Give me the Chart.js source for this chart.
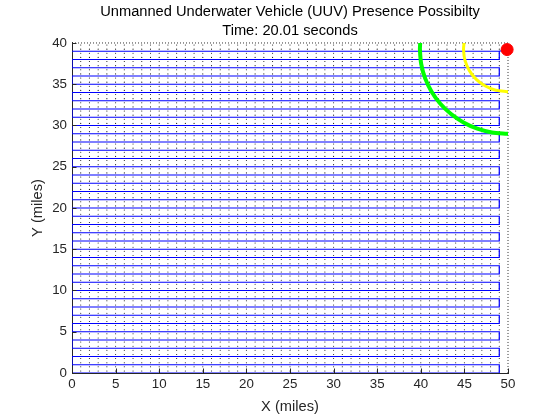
<!DOCTYPE html>
<html>
<head>
<meta charset="utf-8">
<script src="https://cdn.jsdelivr.net/npm/chart.js@4.4.0/dist/chart.umd.min.js"></script>
<style>
  body { margin: 0; background: #fff; }
</style>
</head>
<body>
<canvas id="myChart" width="560" height="420"></canvas>
<script>
// lawnmower search lanes (miles), top lane first
var laneY = [39, 38, 37, 36, 35, 34, 33, 32, 31, 30, 29, 28, 27, 26, 25, 24, 23, 22, 21, 20,
             19, 18, 17, 16, 15, 14, 13, 12, 11, 10, 9, 8, 7, 6, 5, 4, 3, 2, 1, 0];
var laneLeft = 0;
var laneRight = 49;

// coverage grid dots
var dotCols = [1, 2, 3, 4, 5, 6, 7, 8, 9, 10, 11, 12, 13, 14, 15, 16, 17, 18, 19, 20, 21, 22, 23, 24, 25,
               26, 27, 28, 29, 30, 31, 32, 33, 34, 35, 36, 37, 38, 39, 40, 41, 42, 43, 44, 45, 46, 47, 48, 49];
var dotRows = [0.25, 0.75, 1.25, 1.75, 2.25, 2.75, 3.25, 3.75, 4.25, 4.75, 5.25, 5.75, 6.25, 6.75, 7.25, 7.75,
               8.25, 8.75, 9.25, 9.75, 10.25, 10.75, 11.25, 11.75, 12.25, 12.75, 13.25, 13.75, 14.25, 14.75,
               15.25, 15.75, 16.25, 16.75, 17.25, 17.75, 18.25, 18.75, 19.25, 19.75, 20.25, 20.75, 21.25, 21.75,
               22.25, 22.75, 23.25, 23.75, 24.25, 24.75, 25.25, 25.75, 26.25, 26.75, 27.25, 27.75, 28.25, 28.75,
               29.25, 29.75, 30.25, 30.75, 31.25, 31.75, 32.25, 32.75, 33.25, 33.75, 34.25, 34.75, 35.25, 35.75,
               36.25, 36.75, 37.25, 37.75, 38.25, 38.75, 39.25, 39.75];
var borderX = [0, 50, 50];
var borderY = [40, 40, 0];

// UUV position and presence rings
var uuvX = [49.9];
var uuvY = [39.2];
var trailX = [49, 49.9];
var trailY = [39, 39.2];
var greenX = [39.93, 39.9, 40.05, 40.5, 41.24, 42.24, 43.47, 44.9, 46.48, 48.16, 49.9, 50];
var greenY = [40, 39.2, 37.43, 35.71, 34.1, 32.64, 31.39, 30.37, 29.61, 29.15, 29.0, 29.0];
var yellowX = [44.96, 44.9, 45.07, 45.57, 46.36, 47.4, 48.6, 49.9, 50];
var yellowY = [40, 39.2, 37.88, 36.65, 35.59, 34.78, 34.27, 34.1, 34.1];

var xTicks = [0, 5, 10, 15, 20, 25, 30, 35, 40, 45, 50];
var yTicks = [0, 5, 10, 15, 20, 25, 30, 35, 40];

function pts(xs, ys) {
  return xs.map(function(x, i) { return { x: x, y: ys[i] }; });
}

var path = [];
laneY.forEach(function(y, i) {
  if (i % 2 == 0) {
    path.push({ x: laneLeft, y: y }, { x: laneRight, y: y });
  } else {
    path.push({ x: laneRight, y: y }, { x: laneLeft, y: y });
  }
});

var dots = [];
dotRows.forEach(function(y) {
  dotCols.forEach(function(x) { dots.push({ x: x, y: y }); });
});

var innerTicks = {
  id: 'innerTicks',
  afterDraw: function(chart) {
    var ctx = chart.ctx, area = chart.chartArea, sx = chart.scales.x, sy = chart.scales.y;
    ctx.save();
    ctx.strokeStyle = '#262626';
    ctx.lineWidth = 1;
    ctx.beginPath();
    xTicks.forEach(function(v) {
      var px = Math.round(sx.getPixelForValue(v)) + 0.5;
      ctx.moveTo(px, area.bottom);
      ctx.lineTo(px, area.bottom - 4.5);
    });
    yTicks.forEach(function(v) {
      var py = Math.round(sy.getPixelForValue(v)) + 0.5;
      ctx.moveTo(area.left, py);
      ctx.lineTo(area.left + 4.5, py);
    });
    ctx.stroke();
    ctx.restore();
  }
};

var font = 'Liberation Sans, Arial, sans-serif';
var ctx = document.getElementById('myChart').getContext('2d');
var myChart = new Chart(ctx, {
  type: 'scatter',
  data: {
    datasets: [
      { data: pts(uuvX, uuvY), backgroundColor: '#ff0000', borderColor: '#ff0000', pointRadius: 6, showLine: false, clip: false },
      { data: pts(yellowX, yellowY), borderColor: '#ffff00', borderWidth: 3, showLine: true, pointRadius: 0, tension: 0.3 },
      { data: pts(greenX, greenY), borderColor: '#00ff00', borderWidth: 4, showLine: true, pointRadius: 0, tension: 0.3 },
      { data: pts(trailX, trailY), borderColor: '#0000ff', borderWidth: 1.2, showLine: true, pointRadius: 0 },
      { data: path, borderColor: '#0000ff', borderWidth: 1.2, showLine: true, pointRadius: 0 },
      { data: pts(borderX, borderY), borderColor: '#333333', borderWidth: 1, borderDash: [1, 2], showLine: true, pointRadius: 0, clip: false },
      { data: dots, backgroundColor: '#111111', borderWidth: 0, pointRadius: 0.55, showLine: false }
    ]
  },
  options: {
    responsive: false,
    animation: false,
    events: [],
    layout: { padding: { left: 20, right: 0, top: 0, bottom: 0 } },
    plugins: {
      legend: { display: false },
      tooltip: { enabled: false },
      title: {
        display: true,
        text: ['Unmanned Underwater Vehicle (UUV) Presence Possibilty', 'Time: 20.01 seconds'],
        color: '#000000',
        font: { family: font, size: 14.67, weight: 'normal', lineHeight: 1.25 },
        padding: { top: 3, bottom: 3.3 }
      }
    },
    scales: {
      x: {
        type: 'linear', min: 0, max: 50,
        afterFit: function(scale) { scale.height = 47; },
        grid: { display: false, drawTicks: false },
        border: { display: true, color: '#262626', width: 1 },
        ticks: { stepSize: 5, color: '#262626', padding: 3, maxRotation: 0,
                 font: { family: font, size: 13.33 } },
        title: { display: true, text: 'X (miles)', color: '#262626', padding: { top: 0, bottom: 4 },
                 font: { family: font, size: 14.67 } }
      },
      y: {
        type: 'linear', min: 0, max: 40,
        afterFit: function(scale) { scale.width = 52; },
        grid: { display: false, drawTicks: false },
        border: { display: true, color: '#262626', width: 1 },
        ticks: { stepSize: 5, color: '#262626', padding: 5,
                 font: { family: font, size: 13.33 } },
        title: { display: true, text: 'Y (miles)', color: '#262626', padding: { top: 9, bottom: 0 },
                 font: { family: font, size: 14.67 } }
      },
      yRight: {
        type: 'linear', position: 'right', min: 0, max: 40,
        afterFit: function(scale) { scale.width = 52; },
        grid: { display: false, drawTicks: false },
        border: { display: false },
        ticks: { display: false }
      }
    }
  },
  plugins: [innerTicks]
});
</script>
</body>
</html>
